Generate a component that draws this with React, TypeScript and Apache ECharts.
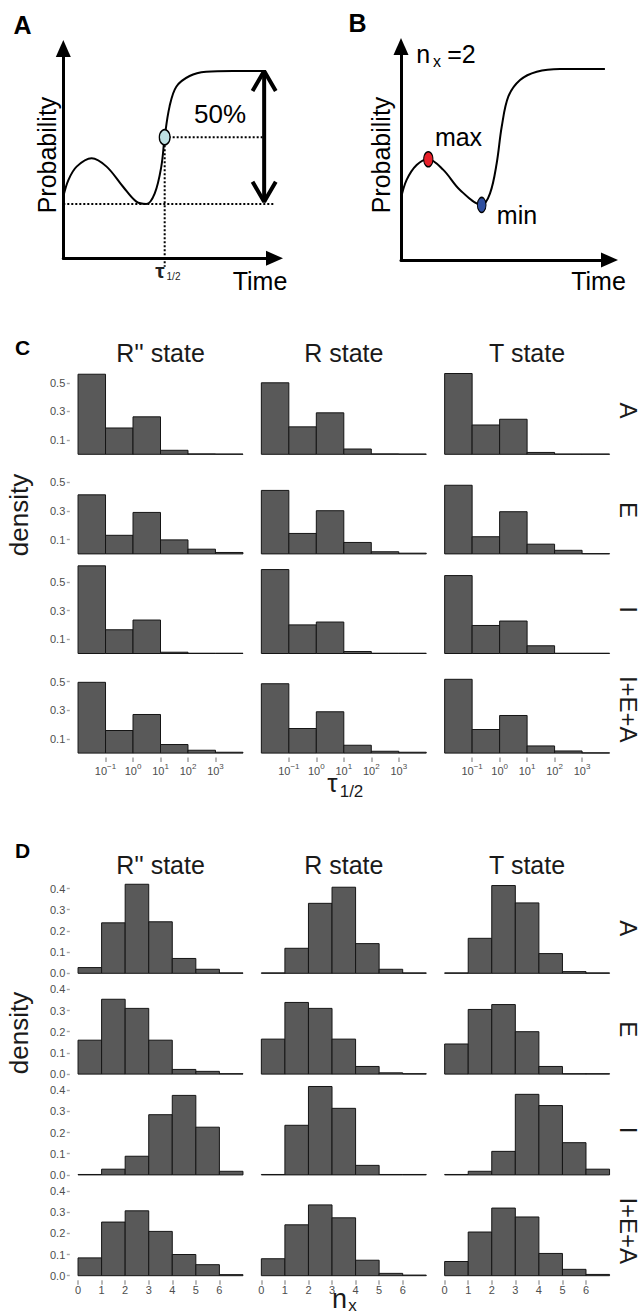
import React, { useEffect, useRef } from "react";
import * as echarts from "echarts";

const FONT = "'Liberation Sans', Arial, Helvetica, sans-serif";

// ---------- Panel A / B schematic curves (arbitrary time / probability units) ----------
const A_CURVE_T = [0, 0.24, 0.63, 1.34, 2.05, 2.83, 3.46, 3.93, 4.33, 4.64, 4.8, 5.03, 5.35, 5.98, 6.76, 8.02, 9.59];
const A_CURVE_P = [2.94, 3.73, 4.37, 4.77, 4.37, 3.41, 2.7, 2.59, 3.1, 4.37, 5.77, 7.23, 8.18, 8.69, 8.89, 8.93, 8.93];
const A_HALF = [4.8, 5.77]; // tau_1/2 point
const A_MIN_LEVEL = 2.59;
const A_TOP_LEVEL = 8.93;
const A_ARROW_X = 9.51;
const A_LINE_END = 9.99;
const A_HALF_LINE_END = 9.43;
const A_BELOW_AXIS = -0.4;

const B_CURVE_T = [0, 0.27, 0.75, 1.31, 2.03, 2.83, 3.87, 4.27, 4.59, 4.83, 5.15, 5.71, 6.51, 7.63, 9.78];
const B_CURVE_P = [2.89, 3.75, 4.45, 4.72, 4.22, 3.28, 2.58, 3.12, 4.53, 6.24, 7.66, 8.43, 8.82, 8.95, 8.95];
const B_MAX = [1.31, 4.72];
const B_MIN = [3.87, 2.58];

// ---------- Facets ----------
const STATES = ["R'' state", "R state", "T state"];
const LIGANDS = ["A", "E", "I", "I+E+A"];

// Panel C: tau_1/2 densities, bins in log10 units
const TAU_EDGES = [-2, -1, 0, 1, 2, 3, 4];
const TAU_TICKS = [-1, 0, 1, 2, 3];
const TAU_YTICKS = [0.1, 0.3, 0.5];
const TAU_A = [
  [0.56, 0.184, 0.262, 0.028, 0.003, 0.002],
  [0.5, 0.192, 0.29, 0.037, 0.003, 0.002],
  [0.565, 0.205, 0.245, 0.013, 0.002, 0.002],
];
const TAU_E = [
  [0.413, 0.13, 0.29, 0.098, 0.033, 0.01],
  [0.444, 0.143, 0.302, 0.08, 0.015, 0.005],
  [0.48, 0.12, 0.295, 0.068, 0.025, 0.002],
];
const TAU_I = [
  [0.613, 0.166, 0.234, 0.009, 0.002, 0.002],
  [0.587, 0.2, 0.22, 0.014, 0.002, 0.002],
  [0.545, 0.196, 0.227, 0.054, 0.002, 0.002],
];
const TAU_IEA = [
  [0.495, 0.158, 0.27, 0.06, 0.02, 0.006],
  [0.485, 0.172, 0.289, 0.055, 0.013, 0.006],
  [0.516, 0.165, 0.263, 0.05, 0.015, 0.002],
];

// Panel D: n_x densities
const NX_EDGES = [0, 1, 2, 3, 4, 5, 6, 7];
const NX_TICKS = [0, 1, 2, 3, 4, 5, 6];
const NX_YTICKS = [0, 0.1, 0.2, 0.3, 0.4];
const NX_A = [
  [0.027, 0.238, 0.42, 0.243, 0.07, 0.019, 0.002],
  [0.002, 0.118, 0.33, 0.406, 0.14, 0.019, 0.002],
  [0.002, 0.165, 0.414, 0.332, 0.093, 0.008, 0.002],
];
const NX_E = [
  [0.16, 0.353, 0.31, 0.16, 0.022, 0.013, 0.002],
  [0.165, 0.338, 0.31, 0.165, 0.036, 0.006, 0.002],
  [0.142, 0.305, 0.328, 0.2, 0.036, 0.002, 0.002],
];
const NX_I = [
  [0.002, 0.027, 0.088, 0.284, 0.375, 0.225, 0.017],
  [0.002, 0.234, 0.417, 0.314, 0.045, 0.002, 0.002],
  [0.002, 0.017, 0.111, 0.38, 0.327, 0.152, 0.027],
];
const NX_IEA = [
  [0.084, 0.253, 0.306, 0.209, 0.1, 0.052, 0.005],
  [0.08, 0.24, 0.334, 0.273, 0.073, 0.011, 0.003],
  [0.067, 0.206, 0.319, 0.277, 0.105, 0.03, 0.006],
];

const TAU_ROWS = [TAU_A, TAU_E, TAU_I, TAU_IEA];
const NX_ROWS = [NX_A, NX_E, NX_I, NX_IEA];

// ---------- Layout ----------
const COL_LEFT = [69.8, 253.1, 436.4];
const PANEL_W = 181.4;
const C_BASE = [454.3, 553.9, 653.5, 753.1];
const C_PX = 143;
const C_YMIN = -0.031;
const C_YMAX = 0.644;
const D_BASE = [973.3, 1074.1, 1174.9, 1275.7];
const D_PX = 212;
const D_YMIN = -0.021;
const D_YMAX = 0.445;

const BAR_FILL = "#595959";
const BAR_STROKE = "#151515";
const TICK_TEXT = "#4d4d4d";
const TICK_LINE = "#a8a8a8";
const TICK_FONT = 11;

function buildOption() {
  const grids: any[] = [];
  const xAxes: any[] = [];
  const yAxes: any[] = [];
  const series: any[] = [];
  const texts: any[] = [];

  const addGrid = (g: any, x: any, y: any) => {
    grids.push({ ...g, containLabel: false, outerBoundsMode: "none" });
    const i = grids.length - 1;
    xAxes.push({ ...x, gridIndex: i });
    yAxes.push({ ...y, gridIndex: i });
    return i;
  };

  // ---- schematic axes ----
  const schemAxis = () => ({
    type: "value",
    min: 0,
    max: 10,
    axisLine: {
      show: true,
      onZero: false,
      symbol: ["none", "triangle"],
      symbolSize: [15, 17],
      lineStyle: { color: "#000", width: 3 },
    },
    axisTick: { show: false },
    axisLabel: { show: false },
    splitLine: { show: false },
  });

  const gA = addGrid({ left: 63.3, top: 48.5, width: 211.2, height: 209.8 }, schemAxis(), schemAxis());
  const gB = addGrid({ left: 401, top: 46.5, width: 208.5, height: 213.5 }, schemAxis(), schemAxis());

  const lineS = (gi: number, data: number[][], style: any, extra: any = {}) => ({
    type: "line",
    xAxisIndex: gi,
    yAxisIndex: gi,
    data,
    symbol: "none",
    showSymbol: false,
    clip: false,
    silent: true,
    lineStyle: style,
    ...extra,
  });

  // Panel A
  series.push(lineS(gA, [[0, A_MIN_LEVEL], [A_LINE_END, A_MIN_LEVEL]], { color: "#000", width: 2, type: "dotted" }));
  series.push(lineS(gA, [[A_HALF[0], A_HALF[1]], [A_HALF_LINE_END, A_HALF[1]]], { color: "#000", width: 2, type: "dotted" }));
  series.push(lineS(gA, [[A_HALF[0], A_HALF[1]], [A_HALF[0], A_BELOW_AXIS]], { color: "#000", width: 2, type: "dotted" }));
  series.push(
    lineS(gA, A_CURVE_T.map((t, i) => [t, A_CURVE_P[i]]), { color: "#000", width: 2 }, { smooth: 0.35 })
  );
  series.push(lineS(gA, [[A_ARROW_X, A_TOP_LEVEL], [A_ARROW_X, A_MIN_LEVEL + 0.1]], { color: "#000", width: 4 }));
  series.push(
    lineS(gA, [[A_ARROW_X - 0.55, A_TOP_LEVEL - 0.96], [A_ARROW_X, A_TOP_LEVEL], [A_ARROW_X + 0.55, A_TOP_LEVEL - 0.96]], {
      color: "#000",
      width: 4,
    })
  );
  series.push(
    lineS(
      gA,
      [[A_ARROW_X - 0.55, A_MIN_LEVEL + 1.06], [A_ARROW_X, A_MIN_LEVEL + 0.1], [A_ARROW_X + 0.55, A_MIN_LEVEL + 1.06]],
      { color: "#000", width: 4 }
    )
  );
  series.push({
    type: "scatter",
    xAxisIndex: gA,
    yAxisIndex: gA,
    data: [A_HALF],
    symbol: "circle",
    symbolSize: [10.7, 15],
    silent: true,
    z: 5,
    itemStyle: { color: "#bfe1e3", borderColor: "#000", borderWidth: 1.5, opacity: 1 },
  });

  // Panel B
  series.push(
    lineS(gB, B_CURVE_T.map((t, i) => [t, B_CURVE_P[i]]), { color: "#000", width: 2 }, { smooth: 0.35 })
  );
  series.push({
    type: "scatter",
    xAxisIndex: gB,
    yAxisIndex: gB,
    data: [B_MAX],
    symbol: "circle",
    symbolSize: [9.3, 15],
    silent: true,
    z: 5,
    itemStyle: { color: "#e8202a", borderColor: "#000", borderWidth: 1.2, opacity: 1 },
  });
  series.push({
    type: "scatter",
    xAxisIndex: gB,
    yAxisIndex: gB,
    data: [B_MIN],
    symbol: "circle",
    symbolSize: [8.7, 15],
    silent: true,
    z: 5,
    itemStyle: { color: "#2f4f9f", borderColor: "#000", borderWidth: 1.2, opacity: 1 },
  });

  // ---- histogram facets ----
  const hist = (gi: number, edges: number[], vals: number[]) => ({
    type: "custom",
    coordinateSystem: "cartesian2d",
    xAxisIndex: gi,
    yAxisIndex: gi,
    silent: true,
    data: vals.map((v, i) => [edges[i], edges[i + 1], v]),
    encode: { x: [0, 1], y: 2 },
    renderItem: (params: any, api: any) => {
      const p0 = api.coord([api.value(0), 0]);
      const p1 = api.coord([api.value(1), api.value(2)]);
      return {
        type: "rect",
        shape: { x: p0[0], y: p1[1], width: p1[0] - p0[0], height: p0[1] - p1[1] },
        style: { fill: BAR_FILL, stroke: BAR_STROKE, lineWidth: 1 },
      };
    },
  });

  const supRich = {
    b: { fontSize: TICK_FONT, fontFamily: FONT, color: TICK_TEXT, padding: [3, 0, 0, 0], verticalAlign: "bottom" },
    s: { fontSize: 8, fontFamily: FONT, color: TICK_TEXT, verticalAlign: "top" },
  };

  // Panel C
  for (let r = 0; r < 4; r++) {
    for (let c = 0; c < 3; c++) {
      const top = C_BASE[r] - C_YMAX * C_PX;
      const height = (C_YMAX - C_YMIN) * C_PX;
      const bottomRow = r === 3;
      const leftCol = c === 0;
      const gi = addGrid(
        { left: COL_LEFT[c], top, width: PANEL_W, height },
        {
          type: "value",
          min: -2.3,
          max: 4.3,
          axisLine: { show: false, onZero: false },
          splitLine: { show: false },
          axisTick: {
            show: bottomRow,
            length: 4.5,
            customValues: TAU_TICKS,
            lineStyle: { color: TICK_LINE, width: 1.6 },
          },
          axisLabel: {
            show: bottomRow,
            customValues: TAU_TICKS,
            margin: 5,
            formatter: (v: number) => `{b|10}{s|${v < 0 ? "\u2212" + Math.abs(v) : v}}`,
            rich: supRich,
          },
        },
        {
          type: "value",
          min: C_YMIN,
          max: C_YMAX,
          axisLine: { show: false, onZero: false },
          splitLine: { show: false },
          axisTick: {
            show: leftCol,
            length: 3,
            customValues: TAU_YTICKS,
            lineStyle: { color: TICK_LINE, width: 1.4 },
          },
          axisLabel: {
            show: leftCol,
            customValues: TAU_YTICKS,
            margin: 4.5,
            fontSize: TICK_FONT,
            fontFamily: FONT,
            color: TICK_TEXT,
            formatter: (v: number) => v.toFixed(1),
          },
        }
      );
      series.push(hist(gi, TAU_EDGES, TAU_ROWS[r][c]));
    }
  }

  // Panel D
  for (let r = 0; r < 4; r++) {
    for (let c = 0; c < 3; c++) {
      const top = D_BASE[r] - D_YMAX * D_PX;
      const height = (D_YMAX - D_YMIN) * D_PX;
      const bottomRow = r === 3;
      const leftCol = c === 0;
      const gi = addGrid(
        { left: COL_LEFT[c], top, width: PANEL_W, height },
        {
          type: "value",
          min: -0.35,
          max: 7.35,
          axisLine: { show: false, onZero: false },
          splitLine: { show: false },
          axisTick: {
            show: bottomRow,
            length: 4.5,
            customValues: NX_TICKS,
            lineStyle: { color: TICK_LINE, width: 1.6 },
          },
          axisLabel: {
            show: bottomRow,
            customValues: NX_TICKS,
            margin: 4.5,
            fontSize: TICK_FONT,
            fontFamily: FONT,
            color: TICK_TEXT,
            formatter: (v: number) => String(v),
          },
        },
        {
          type: "value",
          min: D_YMIN,
          max: D_YMAX,
          axisLine: { show: false, onZero: false },
          splitLine: { show: false },
          axisTick: {
            show: leftCol,
            length: 3,
            customValues: NX_YTICKS,
            lineStyle: { color: TICK_LINE, width: 1.4 },
          },
          axisLabel: {
            show: leftCol,
            customValues: NX_YTICKS,
            margin: 4.5,
            fontSize: TICK_FONT,
            fontFamily: FONT,
            color: TICK_TEXT,
            formatter: (v: number) => v.toFixed(1),
          },
        }
      );
      series.push(hist(gi, NX_EDGES, NX_ROWS[r][c]));
    }
  }

  // ---- texts ----
  const txt = (text: string, x: number, y: number, size: number, o: any = {}) => ({
    type: "text",
    x,
    y,
    rotation: o.rot || 0,
    silent: true,
    z: 10,
    style: {
      text,
      fontSize: size,
      fontFamily: FONT,
      fontWeight: o.bold ? "bold" : "normal",
      fill: o.color || "#000",
      textAlign: o.align || "center",
      textVerticalAlign: "middle",
      align: o.align || "center",
      verticalAlign: "middle",
    },
  });

  // A
  texts.push(txt("A", 22.5, 24.5, 25, { bold: true }));
  texts.push(txt("Probability", 46.7, 155, 25, { rot: Math.PI / 2 }));
  texts.push(txt("Time", 260, 280.5, 25));
  texts.push(txt("50%", 220, 114, 26));
  texts.push(txt("\u03c4", 160, 270.8, 21, { bold: true, color: "#222" }));
  texts.push(txt("1/2", 173.5, 276, 10, { color: "#222" }));
  // B
  texts.push(txt("B", 357.5, 22.5, 25, { bold: true }));
  texts.push(txt("Probability", 380.5, 155, 25, { rot: Math.PI / 2 }));
  texts.push(txt("Time", 598.5, 281, 25));
  texts.push(txt("max", 458.5, 136.5, 25));
  texts.push(txt("min", 517, 214.5, 25));
  texts.push(txt("n", 423.3, 53.6, 25));
  texts.push(txt("x", 437, 61.2, 16));
  texts.push(txt("=2", 461.5, 53.6, 25));

  const colCenters = COL_LEFT.map((l) => l + PANEL_W / 2);
  // C
  texts.push(txt("C", 22.5, 347, 21, { bold: true }));
  STATES.forEach((s, c) => texts.push(txt(s, colCenters[c], 353, 25, { color: "#1a1a1a" })));
  C_BASE.forEach((b, r) =>
    texts.push(txt(LIGANDS[r], 628, b - (C_YMAX * C_PX - ((C_YMAX - C_YMIN) * C_PX) / 2), 24, { rot: -Math.PI / 2, color: "#1a1a1a" }))
  );
  texts.push(txt("density", 18.5, 515, 26, { rot: Math.PI / 2, color: "#1a1a1a" }));
  texts.push(txt("\u03c4", 332.5, 782.8, 26, { color: "#1a1a1a" }));
  texts.push(txt("1/2", 351.5, 791, 17, { color: "#1a1a1a" }));
  // D
  texts.push(txt("D", 22.5, 850.5, 21, { bold: true }));
  STATES.forEach((s, c) => texts.push(txt(s, colCenters[c], 865, 25, { color: "#1a1a1a" })));
  D_BASE.forEach((b, r) =>
    texts.push(txt(LIGANDS[r], 628, b - (D_YMAX * D_PX - ((D_YMAX - D_YMIN) * D_PX) / 2), 24, { rot: -Math.PI / 2, color: "#1a1a1a" }))
  );
  texts.push(txt("density", 18.5, 1033, 26, { rot: Math.PI / 2, color: "#1a1a1a" }));
  texts.push(txt("n", 339.5, 1299.3, 27, { color: "#1a1a1a" }));
  texts.push(txt("x", 352.5, 1305.2, 17, { color: "#1a1a1a" }));

  return {
    animation: false,
    backgroundColor: "#ffffff",
    grid: grids,
    xAxis: xAxes,
    yAxis: yAxes,
    series,
    graphic: { elements: texts },
  };
}

export default function App() {
  const ref = useRef<HTMLDivElement>(null);
  useEffect(() => {
    if (!ref.current) return;
    const chart = echarts.init(ref.current, null, { renderer: "svg" });
    chart.setOption(buildOption() as any);
    return () => chart.dispose();
  }, []);
  return (
    <div
      ref={ref}
      style={{ position: "absolute", left: 0, top: 0, width: 640, height: 1315, background: "#fff" }}
    />
  );
}
